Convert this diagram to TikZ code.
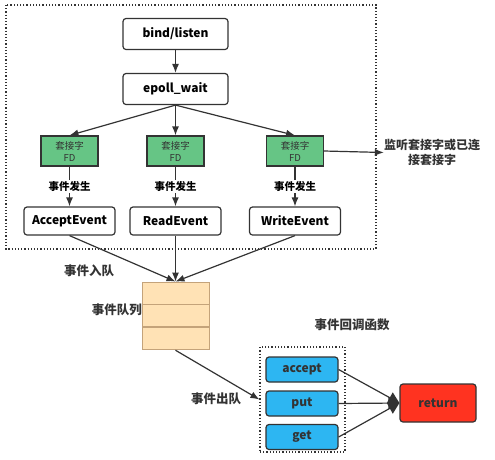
\documentclass[tikz,border=0pt]{standalone}
\usepackage{fontspec}
\setmainfont{Noto Sans CJK SC}
\usetikzlibrary{arrows.meta, positioning}
\definecolor{fdgreen}{HTML}{66C585}
\definecolor{cbblue}{HTML}{2DB6F2}
\definecolor{retred}{HTML}{FF3320}
\definecolor{qfill}{HTML}{FFE2B5}
\definecolor{qline}{HTML}{C4A37A}
\definecolor{lnk}{HTML}{333333}
\tikzset{stage/.style={draw=lnk, rounded corners=3pt, line width=1.2pt, fill=white,
        minimum width=105pt, minimum height=31pt, font=\bfseries\fontsize{12}{14}\selectfont},
    event/.style={stage, minimum width=91pt, minimum height=28pt},
    fdbox/.style={draw=lnk, line width=1.2pt, fill=fdgreen, minimum width=57pt,
        minimum height=30pt, inner sep=0pt, align=center, text=lnk,
        font=\fontsize{9.5}{12}\selectfont},
    cb/.style={draw=lnk, rounded corners=3pt, line width=1.2pt, fill=cbblue, text=lnk,
        minimum width=72pt, minimum height=25pt, font=\bfseries\fontsize{12}{14}\selectfont},
    note/.style={inner sep=1pt, font=\bfseries\fontsize{10.5}{12}\selectfont},
    bignote/.style={inner sep=0pt, align=center, text=lnk, font=\bfseries\fontsize{12.5}{15}\selectfont},
    flow/.style={draw=lnk, line width=1.2pt, -{Latex[length=9pt, width=7pt]}},
    qcell/.style={draw=qline, line width=0.9pt, fill=qfill, minimum width=67pt,
        minimum height=22pt, inner sep=0pt}}

\begin{document}
\begin{tikzpicture}[x=1pt, y=-1pt, >=Latex]
  \useasboundingbox (0,0) rectangle (495,459);

  % Listening part
  \draw[lnk, dotted, line width=1.2pt] (6,5) rectangle (376,249);
  \node[stage] (bind) at (175.5,34) {bind/listen};
  \node[stage] (wait) at (175.5,89) {epoll\_wait};
  \node[fdbox] (fdA) at (69.5,151) {套接字\\FD};
  \node[fdbox] (fdR) at (175.5,151) {套接字\\FD};
  \node[fdbox] (fdW) at (295,151) {套接字\\FD};
  \node[event] (accEv) at (69.5,221) {AcceptEvent};
  \node[event] (readEv) at (175.5,221) {ReadEvent};
  \node[event] (writeEv) at (295,221) {WriteEvent};
  \node[bignote, font=\bfseries\fontsize{12}{15}\selectfont] (sockNote) at (432,152.5) {监听套接字或已连\\接套接字};

  \draw[flow] (bind) -- (wait);
  \draw[flow] (wait.south) -- (fdA.north);
  \draw[flow] (wait.south) -- (fdR.north);
  \draw[flow] (wait.south) -- (fdW.north);
  \draw[flow] (fdW.east) -- (sockNote.west);
  \foreach \src/\dst in {fdA/accEv, fdR/readEv, fdW/writeEv}
    \draw[flow] (\src) -- node[note, fill=white] {事件发生} (\dst);

  % Event queue
  \node[qcell] (q1) at (175.5,293) {};
  \node[qcell, below=0pt of q1] (q2) {};
  \node[qcell, below=0pt of q2] (q3) {};
  \node[bignote] at (89,271) {事件入队};
  \node[bignote, anchor=east] at (142,310) {事件队列};
  \foreach \src in {accEv, readEv, writeEv}
    \draw[flow] (\src.south) -- (q1.north);

  % Callbacks
  \node[draw=lnk, dotted, line width=1.2pt, minimum width=85pt, minimum height=105pt] (cbBox) at (302.5,399.5) {};
  \node[cb] (accept) at (302,369.5) {accept};
  \node[cb] (put) at (302,403.5) {put};
  \node[cb] (get) at (302,437) {get};
  \node[cb, fill=retred, minimum width=76pt, minimum height=38pt] (ret) at (438,403) {return};
  \node[bignote] at (352,325) {事件回调函数};
  \node[bignote] at (216,399) {事件出队};

  \draw[flow] (q3.south) -- (cbBox.west);
  \foreach \src in {accept, put, get}
    \draw[draw=lnk, line width=1.2pt, -{Triangle[length=11pt, width=12pt]}] (\src.east) -- (ret.west);
\end{tikzpicture}
\end{document}
